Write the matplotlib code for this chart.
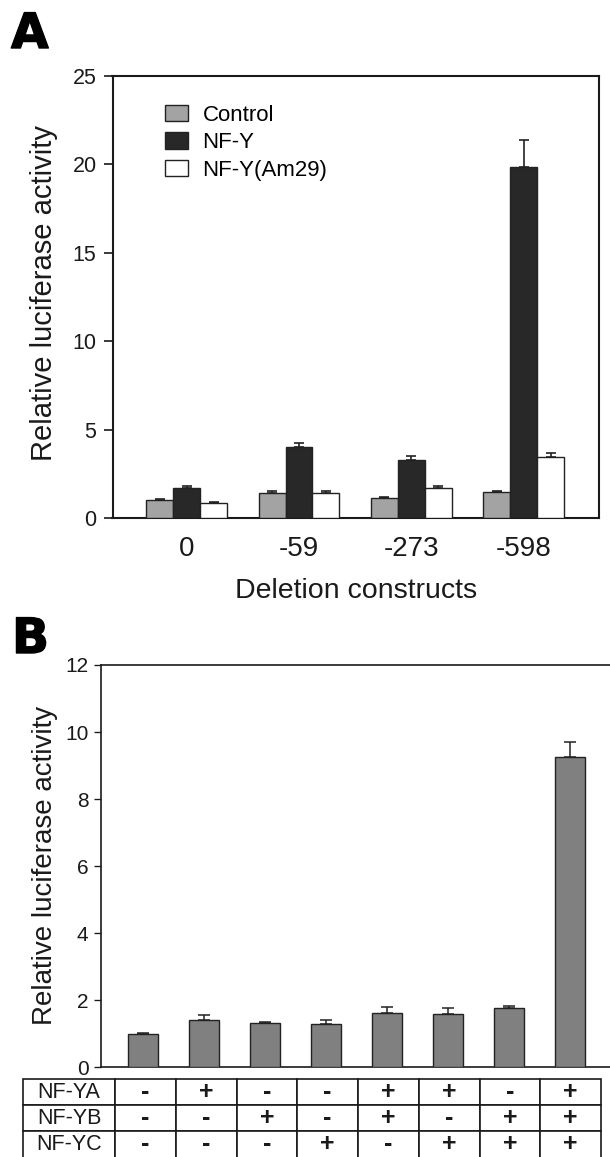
import numpy as np
import matplotlib
matplotlib.use("Agg")
import matplotlib.pyplot as plt
import matplotlib.patheffects as pe

plt.rcParams["font.family"] = ["Liberation Sans", "DejaVu Sans"]

# ---- panel A data -----------------------------------------------------------
constructs = ["0", "-59", "-273", "-598"]
control = [1.05, 1.45, 1.13, 1.48]
control_err = [0.05, 0.08, 0.06, 0.08]
nfy = [1.70, 4.03, 3.28, 19.85]
nfy_err = [0.12, 0.21, 0.22, 1.52]
am29 = [0.85, 1.45, 1.70, 3.46]
am29_err = [0.07, 0.07, 0.14, 0.23]
series_names = ["Control", "NF-Y", "NF-Y(Am29)"]

# ---- panel B data -----------------------------------------------------------
combo_values = [0.99, 1.40, 1.32, 1.28, 1.63, 1.60, 1.78, 9.27]
combo_err = [0.04, 0.15, 0.04, 0.13, 0.16, 0.17, 0.05, 0.43]
row_labels = ["NF-YA", "NF-YB", "NF-YC"]
nf_ya = ["-", "+", "-", "-", "+", "+", "-", "+"]
nf_yb = ["-", "-", "+", "-", "+", "-", "+", "+"]
nf_yc = ["-", "-", "-", "+", "-", "+", "+", "+"]

INK = "#1a1a1a"
EDGE = "#222222"
COLORS = ["#a3a3a3", "#282828", "#ffffff"]
B_COLOR = "#808080"

W, H = 610, 1157
fig = plt.figure(figsize=(W / 100, H / 100), dpi=100)


def px_axes(x0, y0, x1, y1):
    """Axes from pixel box (left, top, right, bottom)."""
    return fig.add_axes([x0 / W, 1 - y1 / H, (x1 - x0) / W, (y1 - y0) / H])


def style_left(ax, lw, ticklen, size, pad):
    ax.tick_params(axis="y", direction="out", length=ticklen, width=lw * 0.8,
                   labelsize=size, colors=INK, pad=pad)
    ax.tick_params(axis="x", length=0, colors=INK)
    for s in ax.spines.values():
        s.set_linewidth(lw)
        s.set_color(INK)


def panel_letter(x, y, s):
    t = fig.text(x / W, 1 - y / H, s, fontsize=35, fontweight="bold",
                 family="DejaVu Sans", va="baseline", ha="left", color="black")
    t.set_path_effects([pe.withStroke(linewidth=1.0, foreground="black")])


# ---- panel A ----------------------------------------------------------------
axA = px_axes(112.5, 75.7, 599, 518.3)
x = np.arange(len(constructs))
bw = 0.24
for i, (vals, errs, c, name) in enumerate(zip([control, nfy, am29],
                                              [control_err, nfy_err, am29_err],
                                              COLORS, series_names)):
    pos = x + (i - 1) * bw
    axA.bar(pos, vals, width=bw, color=c, edgecolor=EDGE, linewidth=1.0,
            label=name, zorder=3)
    axA.errorbar(pos, vals, yerr=[np.zeros(len(vals)), errs], fmt="none",
                 ecolor=EDGE, elinewidth=1.2, capsize=3.6, capthick=1.2, zorder=2)
axA.set_xlim(-0.66, 3.67)
axA.set_ylim(0, 25)
axA.set_yticks([0, 5, 10, 15, 20, 25])
axA.set_xticks(x)
axA.set_xticklabels(constructs, fontsize=20)
axA.tick_params(axis="x", pad=13)
style_left(axA, 1.5, 6.5, 15.5, 5)
axA.set_xlabel("Deletion constructs", fontsize=20.5, color=INK, labelpad=11)
axA.set_ylabel("Relative luciferase activity", fontsize=21, color=INK)
axA.yaxis.set_label_coords(-0.112, 0.51)
axA.legend(loc="upper left", bbox_to_anchor=(0.089, 0.955), frameon=False,
           fontsize=16, handlelength=1.05, handleheight=0.75, handletextpad=0.65,
           labelspacing=0.3, borderaxespad=0)

panel_letter(11, 48, "A")

# ---- panel B ----------------------------------------------------------------
axB = px_axes(101, 665, 612, 1067.3)
xb = np.arange(len(combo_values))
axB.bar(xb, combo_values, width=0.49, color=B_COLOR, edgecolor=EDGE,
        linewidth=1.0, zorder=3)
axB.errorbar(xb, combo_values, yerr=[np.zeros(len(combo_values)), combo_err],
             fmt="none", ecolor=EDGE, elinewidth=1.1, capsize=4.2, capthick=1.1,
             zorder=2)
axB.set_xlim(-0.684, 7.684)
axB.set_ylim(0, 12)
axB.set_yticks(range(0, 13, 2))
axB.set_xticks([])
axB.spines["right"].set_visible(False)
style_left(axB, 1.2, 5, 15, 4)
axB.set_ylabel("Relative luciferase activity", fontsize=20, color=INK)
axB.yaxis.set_label_coords(-0.084, 0.502)

panel_letter(12, 653, "B")

# ---- table under panel B ----------------------------------------------------
tax = px_axes(23, 1079, 601, 1157.5)
tax.axis("off")
cells = [[lab] + list(r) for lab, r in zip(row_labels, [nf_ya, nf_yb, nf_yc])]
label_w = 92
col_w = (601 - 23 - label_w) / len(combo_values)
widths = [label_w / (601 - 23)] + [col_w / (601 - 23)] * len(combo_values)
tbl = tax.table(cellText=cells, colWidths=widths, cellLoc="center",
                bbox=[0, 0, 1, 1])
tbl.auto_set_font_size(False)
for (r, c), cell in tbl.get_celld().items():
    cell.set_linewidth(1.2)
    cell.set_edgecolor(INK)
    txt = cell.get_text()
    txt.set_color(INK)
    if c == 0:
        txt.set_fontsize(15.5)
    else:
        txt.set_fontsize(18)
        txt.set_fontweight("bold")

fig.savefig("out.png", dpi=100)
